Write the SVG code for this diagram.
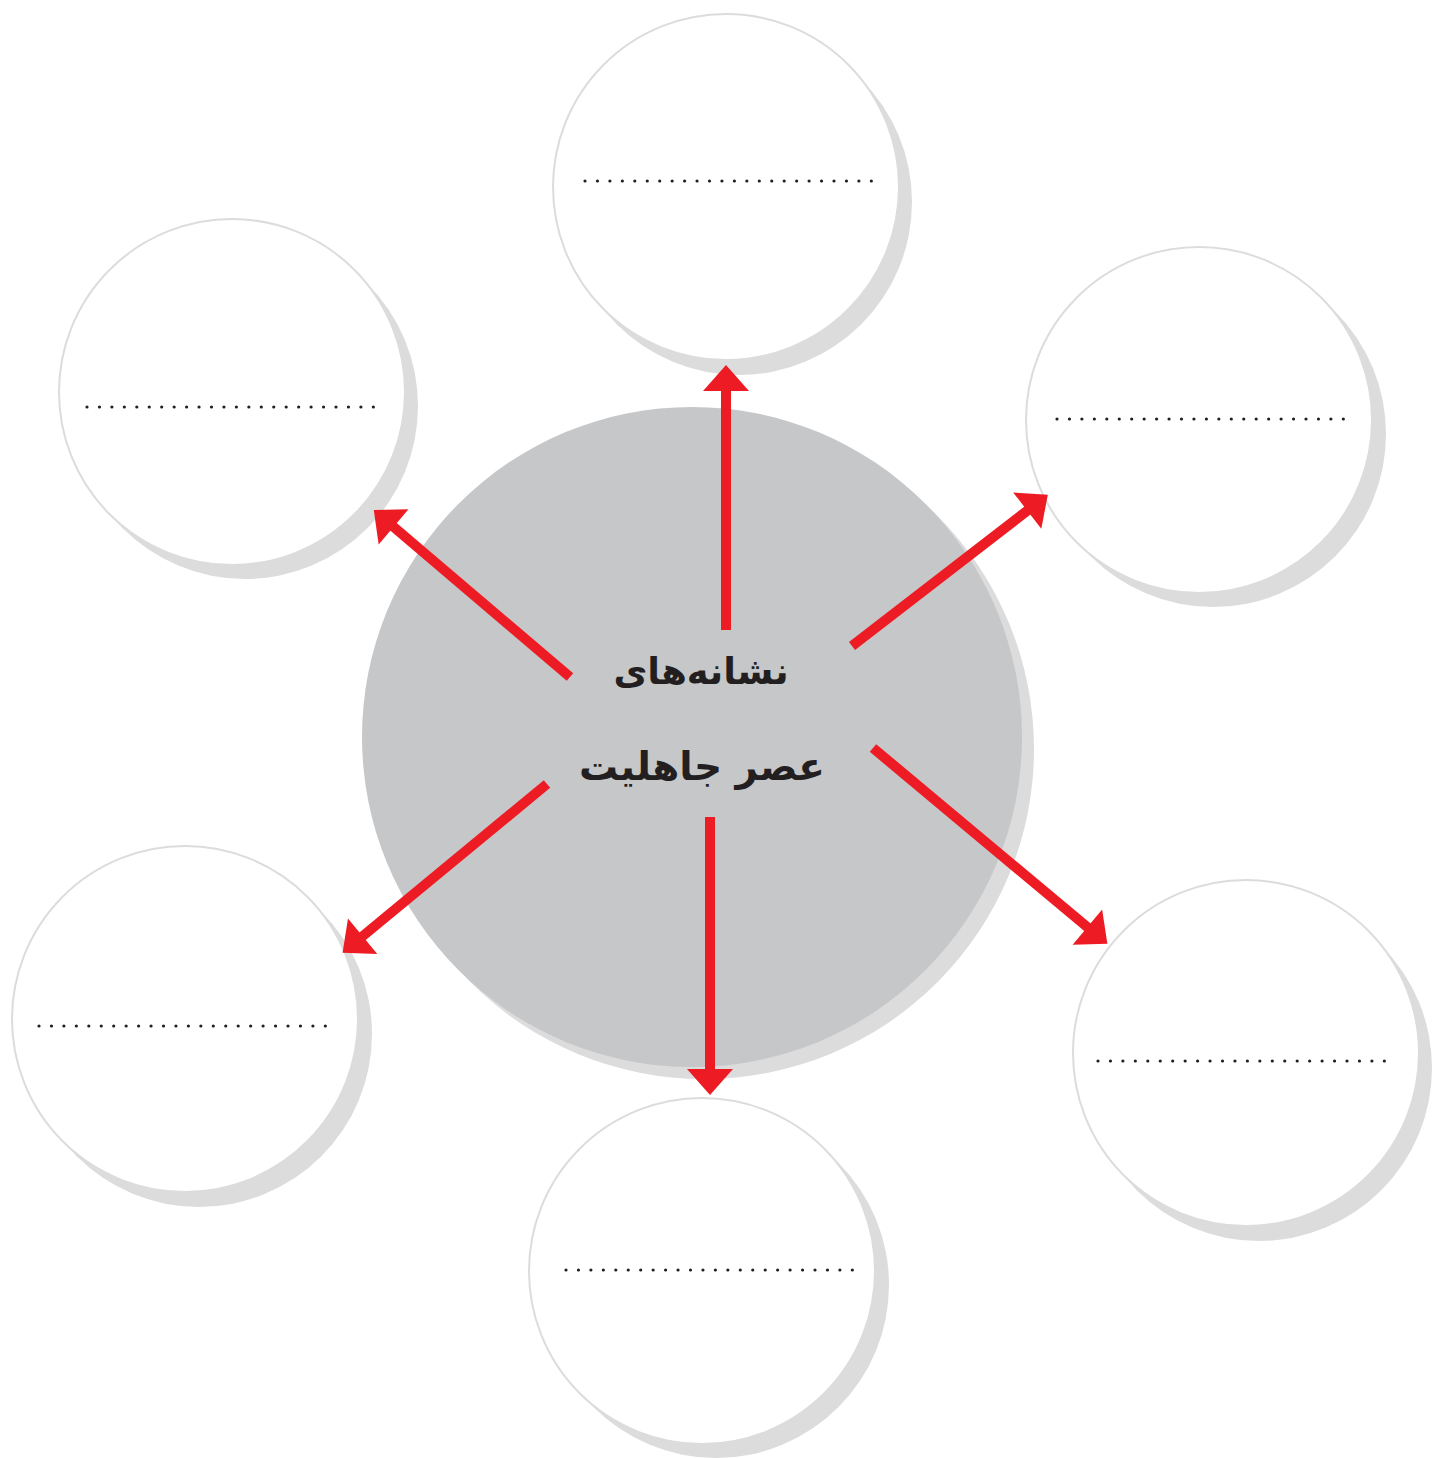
<svg xmlns="http://www.w3.org/2000/svg" width="1432" height="1458" viewBox="0 0 1432 1458">
<style>
.sh{fill:#dcdcdd}
.c{fill:#fff;stroke:#dcdcdc;stroke-width:2}
.dots{stroke:#231f20;stroke-width:3.2;stroke-linecap:round;stroke-dasharray:0 12.45;fill:none}
.ar{stroke:#ed1c24;stroke-width:10;fill:none}
.t{font-family:"DejaVu Sans",sans-serif;font-weight:bold;font-size:40px;fill:#231f20;text-anchor:middle}
</style>
<defs>
<marker id="ah" markerUnits="userSpaceOnUse" markerWidth="60" markerHeight="60" refX="0" refY="0" orient="auto" overflow="visible" viewBox="-10 -30 40 60">
<path d="M-6,-23 L20,0 L-6,23 Z" fill="#ed1c24"/>
</marker>
</defs>
<rect width="1432" height="1458" fill="#fff"/>
<g id="center">
<circle class="sh" cx="704" cy="749" r="330"/>
<circle cx="692" cy="737" r="330" fill="#c6c7c9"/>
<text class="t" x="701" y="684" style="font-size:37px">نشانه‌های</text>
<text class="t" x="702" y="780" style="font-size:39px">عصر جاهلیت</text>
</g>
<g id="n-top">
<circle class="sh" cx="739" cy="202" r="173"/>
<circle class="c" cx="726" cy="187" r="173"/>
<line class="dots" x1="585" y1="181" x2="872" y2="181"/>
</g>
<g id="n-ul">
<circle class="sh" cx="245" cy="406" r="173"/>
<circle class="c" cx="232" cy="392" r="173"/>
<line class="dots" x1="87" y1="407" x2="374" y2="407"/>
</g>
<g id="n-ur">
<circle class="sh" cx="1213" cy="434" r="173"/>
<circle class="c" cx="1199" cy="420" r="173"/>
<line class="dots" x1="1057" y1="419" x2="1344" y2="419"/>
</g>
<g id="n-ll">
<circle class="sh" cx="199" cy="1034" r="173"/>
<circle class="c" cx="185" cy="1019" r="173"/>
<line class="dots" x1="39" y1="1026" x2="326" y2="1026"/>
</g>
<g id="n-bottom">
<circle class="sh" cx="716" cy="1285" r="173"/>
<circle class="c" cx="702" cy="1271" r="173"/>
<line class="dots" x1="566" y1="1270" x2="853" y2="1270"/>
</g>
<g id="n-lr">
<circle class="sh" cx="1259" cy="1068" r="173"/>
<circle class="c" cx="1246" cy="1053" r="173"/>
<line class="dots" x1="1098" y1="1061" x2="1385" y2="1061"/>
</g>
<g id="connectors">
<line class="ar" x1="726" y1="630" x2="726" y2="385" marker-end="url(#ah)"/>
<line class="ar" x1="570" y1="677" x2="389" y2="523" marker-end="url(#ah)"/>
<line class="ar" x1="852" y1="646" x2="1032" y2="507" marker-end="url(#ah)"/>
<line class="ar" x1="873" y1="748" x2="1092" y2="931" marker-end="url(#ah)"/>
<line class="ar" x1="547" y1="784" x2="358" y2="940" marker-end="url(#ah)"/>
<line class="ar" x1="710" y1="817" x2="710" y2="1075" marker-end="url(#ah)"/>
</g>
</svg>
